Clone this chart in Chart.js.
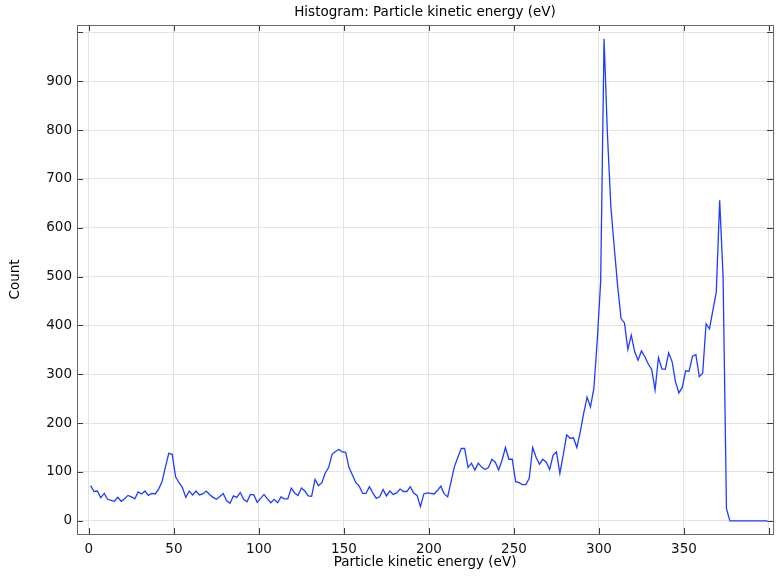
<!DOCTYPE html>
<html>
<head>
<meta charset="utf-8">
<script src="https://cdn.jsdelivr.net/npm/chart.js@4.4.1/dist/chart.umd.min.js"></script>
<style>
  html, body { margin: 0; padding: 0; background: #fff; }
  #box { width: 776px; height: 576px; }
</style>
</head>
<body>
<div id="box"><canvas id="grafico"></canvas></div>
<script>
// Histogram bins: centres start at 1 eV, 2 eV wide
const firstBin = 1;
const binWidth = 2;

// Count per bin
const counts = [
  72, 60, 61, 47, 56, 44, 42, 40, 48, 40,
  45, 52, 49, 45, 59, 55, 61, 52, 56, 55,
  65, 80, 110, 138, 136, 90, 78, 68, 48, 61,
  53, 61, 53, 55, 61, 54, 48, 44, 50, 56,
  41, 36, 51, 48, 58, 44, 39, 54, 53, 38,
  46, 54, 45, 37, 44, 37, 49, 45, 45, 67,
  57, 52, 67, 61, 51, 50, 85, 72, 78, 98,
  109, 136, 142, 146, 141, 140, 109, 94, 78, 71,
  56, 56, 70, 57, 46, 49, 64, 51, 61, 54,
  57, 65, 60, 60, 70, 57, 52, 29, 55, 57,
  56, 55, 62, 71, 55, 49, 80, 111, 130, 148,
  148, 109, 118, 104, 118, 110, 105, 109, 126, 120,
  104, 124, 150, 126, 126, 80, 78, 74, 74, 87,
  150, 130, 116, 126, 120, 105, 134, 141, 97, 135,
  176, 169, 170, 150, 182, 220, 253, 233, 271, 370,
  490, 987, 790, 643, 560, 480, 414, 405, 351, 380,
  346, 329, 348, 336, 321, 310, 268, 334, 311, 310,
  344, 326, 285, 262, 273, 307, 306, 337, 340, 295,
  302, 403, 393, 431, 468, 656, 500, 25, 0, 0,
  0, 0, 0, 0, 0, 0, 0, 0, 0, 0
];

// Axes
const xTicks = [0, 50, 100, 150, 200, 250, 300, 350, 400];
const yTicks = [0, 100, 200, 300, 400, 500, 600, 700, 800, 900, 1000];
const xHidden = [400];   // tick mark without label
const yHidden = [1000];

const corLinha = '#1f3dff';
const corGrade = '#e3e3e3';
const corEixo = '#3a3a3a';
const fonte = { family: 'DejaVu Sans', size: 13.5, lineHeight: 1.2 };
const fonteTitulo = { family: 'DejaVu Sans', size: 13.5, weight: 'normal', lineHeight: 15 / 13.5 };

// inward tick marks + top/right frame, like the original plot
const moldura = {
  id: 'moldura',
  afterDraw(chart) {
    const { ctx, chartArea: a, scales } = chart;
    const len = 6;
    ctx.save();
    ctx.strokeStyle = corEixo;
    ctx.lineWidth = 1;
    ctx.beginPath();
    scales.x.ticks.forEach(t => {
      const px = Math.round(scales.x.getPixelForValue(t.value)) + 0.5;
      ctx.moveTo(px, a.bottom); ctx.lineTo(px, a.bottom - len);
      ctx.moveTo(px, a.top); ctx.lineTo(px, a.top + len);
    });
    scales.y.ticks.forEach(t => {
      const py = Math.round(scales.y.getPixelForValue(t.value)) + 0.5;
      ctx.moveTo(a.left, py); ctx.lineTo(a.left + len, py);
      ctx.moveTo(a.right, py); ctx.lineTo(a.right - len, py);
    });
    ctx.stroke();
    ctx.strokeStyle = '#666';
    ctx.strokeRect(a.left + 0.5, a.top + 0.5, a.right - a.left, a.bottom - a.top);
    ctx.restore();
  }
};

document.addEventListener('DOMContentLoaded', () => {
  const ctx = document.getElementById('grafico');
  new Chart(ctx, {
    type: 'line',
    data: {
      datasets: [{
        label: 'Count',
        data: counts.map((c, i) => ({ x: firstBin + i * binWidth, y: c })),
        borderColor: corLinha,
        borderWidth: 1.3,
        pointRadius: 0,
        tension: 0,
        fill: false
      }]
    },
    options: {
      responsive: true,
      maintainAspectRatio: false,
      animation: false,
      layout: { padding: { left: 0, right: 2, top: 0, bottom: 0 } },
      plugins: {
        legend: { display: false },
        tooltip: { enabled: false },
        title: {
          display: true,
          text: 'Histogram: Particle kinetic energy (eV)',
          color: '#000',
          fullSize: false,
          font: fonteTitulo,
          padding: { top: 5, bottom: 5 }
        }
      },
      scales: {
        x: {
          type: 'linear',
          min: -7,
          max: 402.4,
          afterBuildTicks: s => { s.ticks = xTicks.map(v => ({ value: v })); },
          afterFit: s => { s.height = 42; },
          ticks: {
            color: '#111',
            font: fonte,
            padding: 7,
            maxRotation: 0,
            callback: v => xHidden.includes(v) ? '' : String(v)
          },
          grid: { color: corGrade, drawTicks: false },
          border: { color: corEixo },
          title: {
            display: true,
            text: 'Particle kinetic energy (eV)',
            color: '#000',
            font: fonteTitulo,
            padding: { top: 0, bottom: 6 }
          }
        },
        y: {
          min: -27,
          max: 1015,
          afterBuildTicks: s => { s.ticks = yTicks.map(v => ({ value: v })); },
          afterFit: s => { s.width = 77; },
          ticks: {
            color: '#111',
            font: fonte,
            padding: 5,
            callback: v => yHidden.includes(v) ? '' : String(v)
          },
          grid: { color: corGrade, drawTicks: false },
          border: { color: corEixo },
          title: {
            display: true,
            text: 'Count',
            color: '#000',
            font: fonteTitulo,
            padding: { top: 8, bottom: 0 }
          }
        }
      }
    },
    plugins: [moldura]
  });
});
</script>
</body>
</html>
